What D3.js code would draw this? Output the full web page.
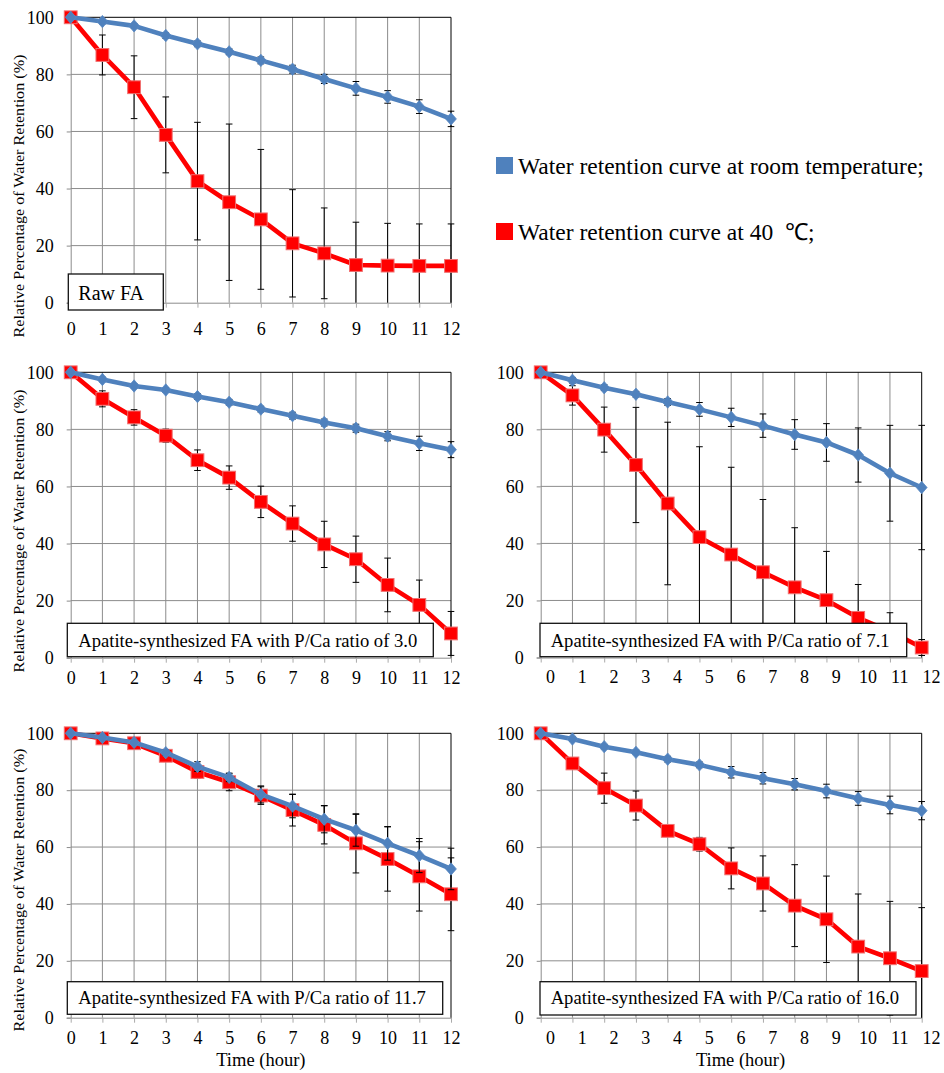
<!DOCTYPE html>
<html>
<head>
<meta charset="utf-8">
<script src="https://cdn.jsdelivr.net/npm/d3@7/dist/d3.min.js"></script>
<style>
  body { margin: 0; background: #fff; }
  svg { display: block; }
  text { font-family: "Liberation Serif", "Times New Roman", Times, serif; fill: #000; }
</style>
</head>
<body>
<svg id="chart" width="944" height="1073"></svg>
<script>
// ---- data ----
const hours = [0, 1, 2, 3, 4, 5, 6, 7, 8, 9, 10, 11, 12];
const xTickLabels = ["0", "1", "2", "3", "4", "5", "6", "7", "8", "9", "10", "11", "12"];
const yTicks = [0, 20, 40, 60, 80, 100];
const seriesNames = ["Water retention curve at room temperature;", "Water retention curve at 40  \u2103;"];
const panelLabels = [
  "Raw FA",
  "Apatite-synthesized FA with P/Ca ratio of 3.0",
  "Apatite-synthesized FA with P/Ca ratio of 7.1",
  "Apatite-synthesized FA with P/Ca ratio of 11.7",
  "Apatite-synthesized FA with P/Ca ratio of 16.0"
];
const yTitle = "Relative Percentage of Water Retention (%)";
const xTitle = "Time (hour)";

// Raw FA
const rawRoom    = [100, 98.5, 97.0, 93.6, 90.7, 87.9, 84.9, 81.8, 78.4, 75.1, 72.1, 68.7, 64.4];
const rawRoomErr = [0, 0.8, 0.8, 1.0, 1.0, 1.0, 1.2, 1.4, 1.6, 2.4, 2.2, 2.4, 2.7];
const raw40      = [100, 86.8, 75.5, 58.8, 42.6, 35.2, 29.2, 20.8, 17.3, 13.2, 13.0, 12.9, 12.9];
const raw40Err   = [0, 7.0, 11.0, 13.3, 20.6, 27.4, 24.5, 18.8, 15.9, 15.0, 14.8, 14.7, 14.7];

// P/Ca 3.0
const pc30Room    = [100, 97.5, 95.2, 93.8, 91.5, 89.5, 87.1, 84.8, 82.4, 80.4, 77.6, 75.1, 72.9];
const pc30RoomErr = [0, 0.8, 0.8, 0.8, 1.0, 1.0, 1.0, 1.2, 1.2, 1.4, 1.6, 2.5, 2.8];
const pc3040      = [100, 90.7, 84.2, 77.8, 69.2, 63.1, 54.6, 47.0, 39.7, 34.5, 25.5, 18.5, 8.5];
const pc3040Err   = [0, 2.8, 2.7, 2.3, 3.6, 4.1, 5.5, 6.2, 8.1, 8.1, 9.4, 8.7, 7.7];

// P/Ca 7.1
const pc71Room    = [100, 97.2, 94.6, 92.3, 89.6, 87.0, 84.2, 81.3, 78.2, 75.4, 71.0, 64.6, 59.6];
const pc71RoomErr = [0, 1.0, 1.0, 1.0, 1.2, 2.4, 3.2, 4.1, 5.2, 6.6, 9.5, 16.8, 21.8];
const pc7140      = [100, 91.9, 79.9, 67.5, 54.0, 42.2, 36.1, 29.9, 24.6, 20.1, 13.9, 9.2, 3.5];
const pc7140Err   = [0, 3.4, 7.9, 20.2, 28.5, 31.7, 30.6, 25.5, 20.9, 17.1, 11.7, 6.5, 2.8];

// P/Ca 11.7
const pc117Room    = [100, 98.5, 96.8, 93.2, 88.3, 84.5, 78.5, 74.4, 69.8, 65.9, 61.3, 57.0, 52.3];
const pc117RoomErr = [0, 0.8, 0.8, 1.0, 1.7, 1.5, 3.0, 4.1, 4.8, 5.6, 5.9, 6.0, 7.3];
const pc11740      = [100, 98.2, 96.5, 92.1, 86.4, 82.8, 78.1, 73.0, 67.8, 61.3, 55.8, 49.7, 43.4];
const pc11740Err   = [0, 0.8, 0.8, 1.0, 2.2, 3.0, 3.1, 5.6, 6.7, 10.4, 11.3, 12.2, 12.8];

// P/Ca 16.0
const pc160Room    = [100, 98.0, 95.3, 93.3, 90.9, 88.9, 86.3, 84.2, 82.1, 79.7, 77.1, 74.8, 72.8];
const pc160RoomErr = [0, 0.8, 0.8, 0.8, 1.0, 1.0, 2.0, 2.0, 2.0, 2.4, 2.4, 3.1, 3.2];
const pc16040      = [100, 89.4, 80.7, 74.6, 65.7, 61.0, 52.5, 47.2, 39.4, 34.6, 25.0, 20.9, 16.4];
const pc16040Err   = [0, 1.0, 5.3, 5.1, 1.0, 2.4, 7.2, 9.7, 14.4, 15.2, 18.5, 20.0, 22.3];

const panelSeries = [
  { room: rawRoom,   roomErr: rawRoomErr,   hot: raw40,   hotErr: raw40Err },
  { room: pc30Room,  roomErr: pc30RoomErr,  hot: pc3040,  hotErr: pc3040Err },
  { room: pc71Room,  roomErr: pc71RoomErr,  hot: pc7140,  hotErr: pc7140Err },
  { room: pc117Room, roomErr: pc117RoomErr, hot: pc11740, hotErr: pc11740Err },
  { room: pc160Room, roomErr: pc160RoomErr, hot: pc16040, hotErr: pc16040Err }
];

// ---- layout ----
const BLUE = "#4f81bd", RED = "#ff0000", GRID = "#8c8c8c";
const SERIF = '"Liberation Serif", "Times New Roman", Times, serif';
const layout = [
  { l: 70.7,  r: 451,   t: 17.3,  b: 302.7,  lx: 0,   ly: 26.3, title: 196, xt: false,
    box: [68.3, 274, 95, 36],      tx: 78.3,  ty: 299.5,  fs: 20 },
  { l: 70.7,  r: 451,   t: 372.3, b: 657.7,  lx: 0,   ly: 20,   title: 531, xt: false,
    box: [67.3, 623.3, 366, 33.4], tx: 78.3,  ty: 646.5,  fs: 18.6 },
  { l: 540.7, r: 921.7, t: 372.3, b: 657.5,  lx: 9.3, ly: 20,   title: null, xt: false,
    box: [540, 623.3, 366.7, 33.4], tx: 550.7, ty: 646.5, fs: 18.6 },
  { l: 70.7,  r: 451,   t: 733.3, b: 1017.7, lx: 0,   ly: 20,   title: 890, xt: true,
    box: [67.3, 981.7, 375.4, 32.6], tx: 78.3, ty: 1004.3, fs: 18.6 },
  { l: 540.7, r: 921.7, t: 733.3, b: 1017.7, lx: 9.3, ly: 20,   title: null, xt: true,
    box: [540, 981.7, 376, 33.3],  tx: 550.7, ty: 1004.3, fs: 18.6 }
];

const svg = d3.select("#chart");

panelSeries.forEach((s, i) => {
  const L = layout[i];
  const x = d3.scaleLinear().domain([0, 12]).range([L.l, L.r]);
  const y = d3.scaleLinear().domain([0, 100]).range([L.b, L.t]);
  const xl = d3.scaleLinear().domain([0, 12]).range([L.l + L.lx, L.r + L.lx]);
  const g = svg.append("g").attr("class", "panel");

  // left axis with short outward ticks
  g.append("g")
    .attr("transform", `translate(${L.l},0)`)
    .call(d3.axisLeft(y).tickValues(yTicks).tickSize(4).tickPadding(13).tickFormat(d => d))
    .call(a => a.select(".domain").attr("stroke", GRID))
    .call(a => a.selectAll(".tick line").attr("stroke", GRID))
    .call(a => a.selectAll(".tick text").attr("font-size", 18).attr("font-family", SERIF).attr("fill", "#000"));
  // horizontal gridlines
  g.append("g").selectAll("line").data(yTicks.filter(v => v > 0 && v < 100)).join("line")
    .attr("x1", L.l).attr("x2", L.r).attr("y1", d => y(d)).attr("y2", d => y(d))
    .attr("stroke", GRID).attr("stroke-width", 1);

  // vertical gridlines
  g.append("g").selectAll("line").data(hours.filter(h => h > 0 && h < 12)).join("line")
    .attr("x1", d => x(d)).attr("x2", d => x(d)).attr("y1", L.t).attr("y2", L.b)
    .attr("stroke", GRID).attr("stroke-width", 1);

  // bottom axis: tick marks at grid positions
  g.append("g")
    .attr("transform", `translate(0,${L.b})`)
    .call(d3.axisBottom(x).tickValues(hours).tickSize(5).tickSizeOuter(0).tickFormat(""))
    .call(a => a.select(".domain").attr("stroke", GRID))
    .call(a => a.selectAll(".tick line").attr("stroke", "#aaa"));

  // bottom axis labels
  g.append("g")
    .attr("transform", `translate(0,${L.b})`)
    .call(d3.axisBottom(xl).tickValues(hours).tickSize(0).tickFormat((d, k) => xTickLabels[k]))
    .call(a => a.select(".domain").remove())
    .call(a => a.selectAll(".tick text").attr("y", L.ly).attr("dy", "0.33em")
      .attr("font-size", 18).attr("font-family", SERIF).attr("fill", "#000"));

  // plot border top/right
  g.append("path")
    .attr("d", `M${L.l},${y(100)}H${x(12)}V${L.b}`)
    .attr("fill", "none").attr("stroke", "#000").attr("stroke-width", 1);

  // series: 40 °C first, room temperature on top
  const drawSeries = (vals, errs, color, marker) => {
    const sg = g.append("g");
    // error bars
    hours.forEach((h, k) => {
      const e = errs[k];
      if (!e) return;
      const hi = Math.min(100, vals[k] + e), lo = Math.max(0, vals[k] - e);
      const cx = x(h);
      sg.append("line").attr("x1", cx).attr("x2", cx).attr("y1", y(hi)).attr("y2", y(lo))
        .attr("stroke", "#000").attr("stroke-width", 1);
      if (vals[k] + e <= 100)
        sg.append("line").attr("x1", cx - 3.3).attr("x2", cx + 3.3).attr("y1", y(hi)).attr("y2", y(hi))
          .attr("stroke", "#000").attr("stroke-width", 1);
      if (vals[k] - e >= 0)
        sg.append("line").attr("x1", cx - 3.3).attr("x2", cx + 3.3).attr("y1", y(lo)).attr("y2", y(lo))
          .attr("stroke", "#000").attr("stroke-width", 1);
    });
    const line = d3.line().x((d, k) => x(hours[k])).y(d => y(d));
    sg.append("path").datum(vals).attr("d", line)
      .attr("fill", "none").attr("stroke", color).attr("stroke-width", 4.6).attr("stroke-linejoin", "round");
    if (marker === "square") {
      sg.selectAll("rect").data(vals).join("rect")
        .attr("x", (d, k) => x(hours[k]) - 6.4).attr("y", d => y(d) - 6.4)
        .attr("width", 12.8).attr("height", 12.8)
        .attr("fill", RED).attr("stroke", "#f07070").attr("stroke-width", 1);
    } else {
      sg.selectAll("path.mk").data(vals).join("path").attr("class", "mk")
        .attr("d", "M0,-6.2L5.4,0L0,6.2L-5.4,0Z")
        .attr("transform", (d, k) => `translate(${x(hours[k])},${y(d)})`)
        .attr("fill", color).attr("stroke", "#5b8ac4").attr("stroke-width", 0.8);
    }
  };
  drawSeries(s.hot, s.hotErr, RED, "square");
  drawSeries(s.room, s.roomErr, BLUE, "diamond");

  // label box
  g.append("rect")
    .attr("x", L.box[0]).attr("y", L.box[1]).attr("width", L.box[2]).attr("height", L.box[3])
    .attr("fill", "#fff").attr("stroke", "#111").attr("stroke-width", 1.3);
  g.append("text").attr("x", L.tx).attr("y", L.ty).attr("font-size", L.fs)
    .attr("font-family", SERIF).text(panelLabels[i]);

  // axis titles
  if (L.title !== null) {
    g.append("text")
      .attr("transform", `translate(19,${L.title}) rotate(-90)`)
      .attr("text-anchor", "middle").attr("dominant-baseline", "central")
      .attr("font-size", 15).attr("font-family", SERIF)
      .attr("textLength", 283).attr("lengthAdjust", "spacingAndGlyphs")
      .text(yTitle);
  }
  if (L.xt) {
    g.append("text")
      .attr("x", (L.l + L.r) / 2 + L.lx).attr("y", 1066)
      .attr("text-anchor", "middle").attr("font-size", 18.5).attr("font-family", SERIF)
      .text(xTitle);
  }
});

// legend
const legend = svg.append("g").attr("class", "legend");
const legendColors = [BLUE, RED];
const legendRows = [157, 223];
seriesNames.forEach((name, k) => {
  legend.append("rect").attr("x", 496).attr("y", legendRows[k]).attr("width", 17).attr("height", 17)
    .attr("fill", legendColors[k]);
  legend.append("text").attr("x", 518).attr("y", legendRows[k] + 16.5)
    .attr("font-size", 23.5).attr("font-family", SERIF).style("white-space", "pre").text(name);
});
</script>
</body>
</html>
